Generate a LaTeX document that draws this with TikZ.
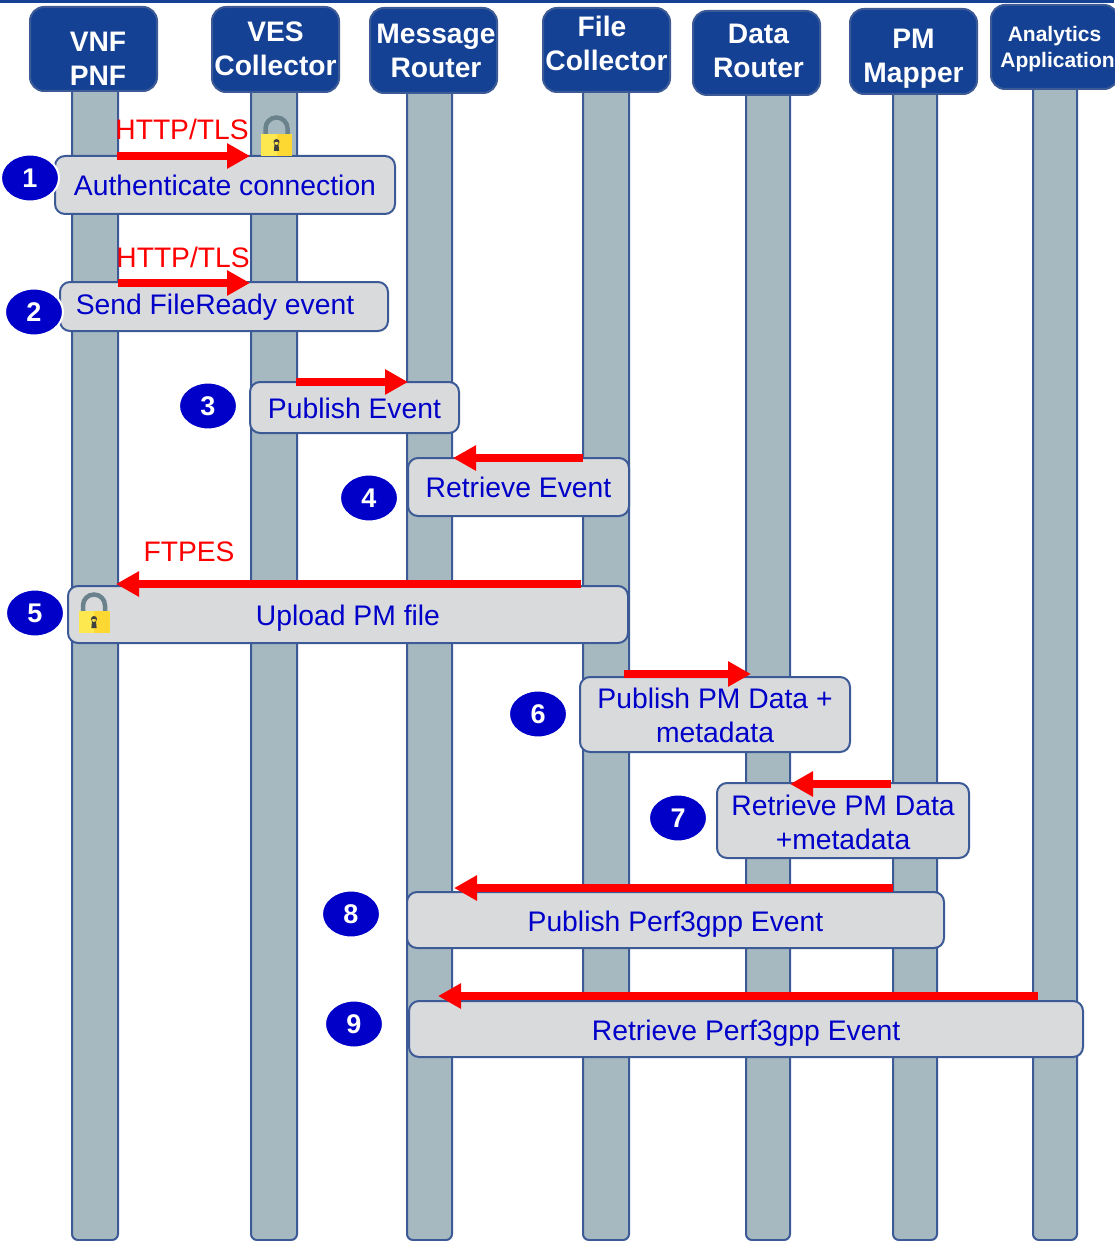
\documentclass[tikz,border=0pt]{standalone}
\usepackage{xcolor}
\usepackage{fontspec}
\setmainfont{Liberation Sans}
\usepackage{tikz}
\usetikzlibrary{arrows.meta, shapes.geometric}
\definecolor{marino}{RGB}{20, 65, 147}
\definecolor{borde}{RGB}{60, 90, 150}
\definecolor{pizarra}{RGB}{167, 185, 192}
\definecolor{perla}{RGB}{217, 218, 220}
\definecolor{azul}{RGB}{0, 0, 200}
\definecolor{candado}{RGB}{253, 232, 80}
\definecolor{candadoB}{RGB}{253, 215, 50}
\definecolor{arco}{RGB}{105, 130, 140}
\tikzset{
    head/.style={draw=borde, fill=marino, text=white, line width=2pt, rounded corners=14pt, inner sep=0pt, align=center, font=\fontsize{28.2}{34}\selectfont\bfseries},
    headLow/.style={head, font=\fontsize{21}{26}\selectfont\bfseries},
    life/.style={draw=borde, fill=pizarra, line width=2pt, rounded corners=6pt, inner sep=0pt, minimum width=46pt, minimum height=1170pt},
    stepbox/.style={draw=borde, fill=perla, text=azul, line width=2pt, rounded corners=10pt, inner sep=0pt, align=center, font=\fontsize{28.3}{34}\selectfont},
    num/.style={ellipse, fill=azul, draw=white, line width=2pt, text=white, inner sep=0pt, minimum width=58pt, minimum height=47pt, font=\fontsize{27}{30}\selectfont\bfseries},
    proto/.style={text=red, inner sep=0pt, font=\fontsize{28.2}{34}\selectfont},
    msg/.style={-{Triangle[length=23pt,width=24pt]}, red, line width=7.5pt},
    lockicon/.pic={
        \draw[arco, line width=4.5pt] (-11,0) -- (-11,-6.5) arc[start angle=180, end angle=360, radius=11] -- (11,0);
        \fill[candado] (-15.5,-1) rectangle (0,21);
        \fill[candadoB] (0,-1) rectangle (15.5,21);
        \fill[black!75] (0,7) circle (3) (-1.8,7) -- (-2.6,16) -- (2.6,16) -- (1.8,7) -- cycle;
    },
}
\begin{document}
\begin{tikzpicture}[x=1pt, y=-1pt]
    \useasboundingbox (0,0) rectangle (1114,1241);
    \fill[marino] (0,0) rectangle (1114,3);

    % lifelines
    \node[life] (lvnf) at (95,655) {};
    \node[life] (lves) at (274,655) {};
    \node[life, minimum width=45pt] (lmr) at (429.5,655) {};
    \node[life] (lfc) at (606,655) {};
    \node[life, minimum width=44pt] (ldr) at (768,655) {};
    \node[life, minimum width=44pt] (lpm) at (915,655) {};
    \node[life, minimum width=44pt] (laa) at (1055,655) {};

    % header boxes
    \node[head, minimum width=127pt, minimum height=84pt] (vnf) at (93.5,49) {\hspace*{9pt}\rule{0pt}{40pt}VNF\\\hspace*{9pt}PNF};
    \node[head, minimum width=127pt, minimum height=85pt] (ves) at (275.5,49.5) {VES\\Collector\rule[-2.5pt]{0pt}{0pt}};
    \node[head, minimum width=127pt, minimum height=85pt] (mr) at (433.5,50.5) {\hspace*{5pt}Message\\\hspace*{5pt}Router};
    \node[head, minimum width=127pt, minimum height=84pt] (fc) at (606.5,50) {File\hspace*{9pt}\\Collector\rule[-12.5pt]{0pt}{0pt}};
    \node[head, minimum width=127pt, minimum height=84pt] (dr) at (756.5,53) {\hspace*{4pt}Data\\\hspace*{4pt}Router\rule[-4.5pt]{0pt}{0pt}};
    \node[head, minimum width=127pt, minimum height=85pt] (pm) at (913.5,51.5) {\rule{0pt}{34pt}PM\\Mapper};
    \node[headLow, minimum width=127pt, minimum height=84pt] (aa) at (1054.5,47) {\rule{0pt}{19pt}Analytics\\\hspace*{6pt}Application};

    % step boxes
    \node[stepbox, minimum width=340pt, minimum height=58pt] (s1) at (225,185) {Authenticate connection};
    \node[stepbox, minimum width=328pt, minimum height=49pt] (s2) at (224,306.5) {\rule{0pt}{22.5pt}Send FileReady event\hspace*{18pt}};
    \node[stepbox, minimum width=209pt, minimum height=51pt] (s3) at (354.5,407.5) {\rule{0pt}{22.5pt}Publish Event};
    \node[stepbox, minimum width=221pt, minimum height=58pt] (s4) at (518.5,487) {Retrieve Event};
    \node[stepbox, minimum width=560pt, minimum height=57pt] (s5) at (348,614.5) {\rule{0pt}{28.5pt}Upload PM file};
    \node[stepbox, minimum width=270pt, minimum height=75pt] (s6) at (715,714.5) {\rule{0pt}{22.5pt}Publish PM Data +\\metadata};
    \node[stepbox, minimum width=252pt, minimum height=75pt] (s7) at (843,820.5) {\rule{0pt}{24.5pt}Retrieve PM Data\\+metadata};
    \node[stepbox, minimum width=537pt, minimum height=56pt] (s8) at (675.5,920) {\rule{0pt}{28.5pt}Publish Perf3gpp Event};
    \node[stepbox, minimum width=674pt, minimum height=56pt] (s9) at (746,1029) {\rule{0pt}{28.5pt}Retrieve Perf3gpp Event};

    % numbers
    \node[num] (n1) at (30,178) {1};
    \node[num] (n2) at (34,312) {2};
    \node[num] (n3) at (208,406) {3};
    \node[num] (n4) at (369,498) {4};
    \node[num] (n5) at (35,613) {5};
    \node[num] (n6) at (538,714) {6};
    \node[num] (n7) at (678,818) {7};
    \node[num] (n8) at (351,914) {8};
    \node[num] (n9) at (354,1024) {9};

    % arrow ends
    \coordinate (a1a) at (117,156);
    \coordinate (a1b) at (250,156);
    \coordinate (a2a) at (118,283);
    \coordinate (a2b) at (250,283);
    \coordinate (a3a) at (296,382);
    \coordinate (a3b) at (408,382);
    \coordinate (a4a) at (583,458);
    \coordinate (a4b) at (453,458);
    \coordinate (a5a) at (581,584);
    \coordinate (a5b) at (116,584);
    \coordinate (a6a) at (624,674);
    \coordinate (a6b) at (751,674);
    \coordinate (a7a) at (891,784);
    \coordinate (a7b) at (790,784);
    \coordinate (a8a) at (893,888);
    \coordinate (a8b) at (454,888);
    \coordinate (a9a) at (1038,996);
    \coordinate (a9b) at (438,996);
    \draw[msg] (a1a) -- (a1b);
    \draw[msg] (a2a) -- (a2b);
    \draw[msg] (a3a) -- (a3b);
    \draw[msg] (a4a) -- (a4b);
    \draw[msg] (a5a) -- (a5b);
    \draw[msg] (a6a) -- (a6b);
    \draw[msg] (a7a) -- (a7b);
    \draw[msg] (a8a) -- (a8b);
    \draw[msg] (a9a) -- (a9b);

    % protocols
    \node[proto] (p1) at (182,129) {HTTP/TLS};
    \node[proto] (p2) at (183,257) {HTTP/TLS};
    \node[proto] (p5) at (189,552) {FTPES};

    \pic at (276.5,135) {lockicon};
    \pic at (94,612) {lockicon};
\end{tikzpicture}
\end{document}
